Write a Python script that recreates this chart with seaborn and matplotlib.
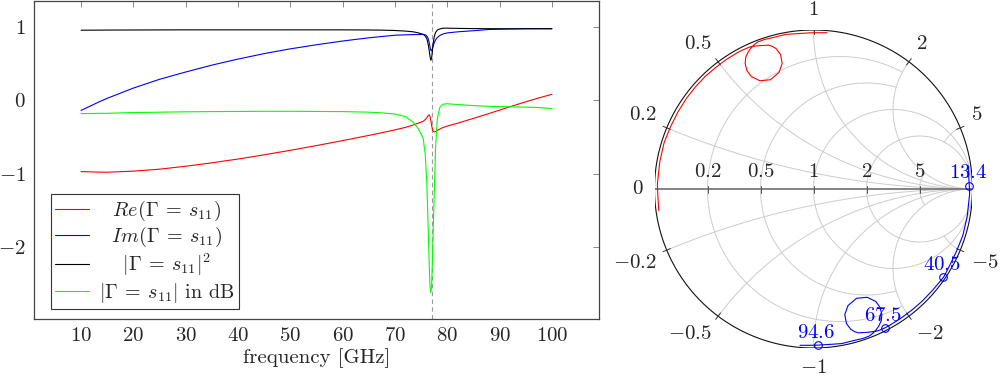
import numpy as np
import pandas as pd
import matplotlib
matplotlib.use("Agg")
import matplotlib.pyplot as plt
import seaborn as sns

# ---------------- data ----------------
freq = [10.0, 13.4, 15.0, 20.0, 25.0, 30.0, 35.0, 40.0, 40.5, 45.0, 50.0, 55.0, 60.0,
        65.0, 67.5, 70.0, 72.0, 73.5, 74.5, 75.4, 75.8, 76.1, 76.35, 76.55, 76.7,
        76.85, 77.0, 77.15, 77.3, 77.5, 77.75, 78.1, 78.6, 79.2, 80.0, 82.0, 85.0,
        88.0, 91.0, 94.0, 94.6, 97.0, 100.0]

re_s11 = [-0.973, -0.980, -0.982, -0.967, -0.940, -0.900, -0.853, -0.801, -0.796, -0.743,
          -0.682, -0.617, -0.549, -0.478, -0.441, -0.402, -0.368, -0.335, -0.309, -0.285,
          -0.260, -0.234, -0.207, -0.197, -0.217, -0.271, -0.338, -0.392, -0.419, -0.430,
          -0.426, -0.410, -0.390, -0.369, -0.350, -0.310, -0.245, -0.178, -0.108, -0.040,
          -0.027, 0.025, 0.085]

im_s11 = [-0.136, -0.020, 0.030, 0.170, 0.290, 0.390, 0.484, 0.567, 0.574, 0.642,
          0.707, 0.763, 0.814, 0.858, 0.876, 0.893, 0.899, 0.902, 0.903, 0.905,
          0.898, 0.882, 0.846, 0.789, 0.733, 0.687, 0.681, 0.708, 0.745, 0.790,
          0.829, 0.863, 0.891, 0.911, 0.925, 0.940, 0.955, 0.972, 0.977, 0.981,
          0.982, 0.983, 0.983]

mag2_s11 = [0.962, 0.963, 0.964, 0.965, 0.966, 0.967, 0.967, 0.967, 0.967, 0.967,
            0.967, 0.967, 0.967, 0.965, 0.963, 0.958, 0.950, 0.940, 0.925, 0.905,
            0.880, 0.845, 0.770, 0.680, 0.600, 0.550, 0.580, 0.680, 0.780, 0.870,
            0.930, 0.965, 0.980, 0.990, 0.990, 0.987, 0.984, 0.983, 0.982, 0.982,
            0.982, 0.982, 0.982]

db_s11 = [-0.180, -0.176, -0.175, -0.165, -0.160, -0.155, -0.152, -0.150, -0.150, -0.148,
          -0.148, -0.150, -0.152, -0.160, -0.170, -0.185, -0.220, -0.300, -0.390, -0.520,
          -0.750, -1.150, -1.750, -2.250, -2.550, -2.630, -2.550, -2.200, -1.800, -1.300,
          -0.650, -0.250, -0.090, -0.050, -0.045, -0.055, -0.070, -0.080, -0.085, -0.090,
          -0.090, -0.095, -0.110]

# admittance-side trace (blue) in the Smith chart
adm_re = [0.973, 0.980, 0.982, 0.967, 0.940, 0.900, 0.856, 0.822, 0.817, 0.748,
          0.685, 0.618, 0.549, 0.481, 0.448, 0.402, 0.366, 0.332, 0.307, 0.285,
          0.260, 0.234, 0.207, 0.197, 0.217, 0.271, 0.338, 0.392, 0.419, 0.430,
          0.426, 0.410, 0.390, 0.369, 0.350, 0.310, 0.245, 0.178, 0.108, 0.040,
          0.027, -0.025, -0.085]
adm_im = [0.136, 0.020, -0.030, -0.170, -0.290, -0.390, -0.482, -0.548, -0.556, -0.638,
          -0.704, -0.762, -0.813, -0.856, -0.874, -0.893, -0.898, -0.902, -0.903, -0.905,
          -0.898, -0.882, -0.846, -0.789, -0.733, -0.687, -0.681, -0.708, -0.745, -0.790,
          -0.829, -0.863, -0.891, -0.911, -0.925, -0.940, -0.955, -0.972, -0.977, -0.981,
          -0.982, -0.983, -0.983]

marker_freqs = [13.4, 40.5, 67.5, 94.6]
resonance_freq = 77.0

x_ticks = [10, 20, 30, 40, 50, 60, 70, 80, 90, 100]
y_ticks = [-2, -1, 0, 1]
smith_r_ticks = [0.2, 0.5, 1, 2, 5]
smith_x_ticks = [0.2, 0.5, 1, 2, 5]

label_math = [r"Re(\Gamma\:=\:s_{11})", r"Im(\Gamma\:=\:s_{11})",
              r"|\Gamma\:=\:s_{11}|^2", r"|\Gamma\:=\:s_{11}|"]
label_suffix = ["", "", "", " in dB"]

# ---------------- style ----------------
sns.set_theme(style="white")
plt.rcParams["font.family"] = ["cmr10", "DejaVu Serif"]
plt.rcParams["mathtext.fontset"] = "cm"
plt.rcParams["axes.unicode_minus"] = False
FS = 15
LFS = 14.5

fig = plt.figure(figsize=(10, 3.77), dpi=100)

# ---------------- left panel ----------------
ax = fig.add_axes([0.034, 0.154, 0.565, 0.843])
df = pd.DataFrame({"freq": freq, "re": re_s11, "im": im_s11,
                   "mag2": mag2_s11, "db": db_s11})
labels = [f"${m}${s}" for m, s in zip(label_math, label_suffix)]
for col, colr, lab in zip(["re", "im", "mag2", "db"],
                          ["#ff0000", "#0000ff", "#000000", "#00ff00"], labels):
    sns.lineplot(data=df, x="freq", y=col, color=colr, lw=0.8, label=lab, ax=ax)

ax.axvline(resonance_freq, color="#9a9a9a", lw=0.8, ls=(0, (4, 3)), zorder=0)

ax.set_xlim(1, 109)
ax.set_ylim(-2.99, 1.36)
ax.set_xticks(x_ticks)
ax.set_xticklabels([f"${t}$" for t in x_ticks])
ax.set_yticks(y_ticks)
ax.set_yticklabels([f"${t}$" for t in y_ticks])
ax.tick_params(direction="in", length=4, width=0.6, color="#777777",
               top=True, right=True, labelsize=FS)
ax.tick_params(axis="y", pad=6)
ax.tick_params(axis="x", pad=6)
ax.set_xlabel("frequency [GHz]", fontsize=FS, labelpad=2)
ax.set_ylabel("")
for s in ax.spines.values():
    s.set_color("#444444")
    s.set_linewidth(0.9)

leg = ax.legend(loc="lower left", bbox_to_anchor=(0.03, 0.031), borderaxespad=0,
                frameon=True, fancybox=False, edgecolor="#333333", framealpha=1,
                handlelength=1.65, handletextpad=0.5, labelspacing=0.12,
                borderpad=0.22, fontsize=LFS)
leg.get_frame().set_linewidth(0.8)

# centre the legend texts (pgfplots style) by padding shorter entries
fig.canvas.draw()
rend = fig.canvas.get_renderer()
widths = [t.get_window_extent(rend).width for t in leg.get_texts()]
wmax = max(widths)
m_px = 0.878 * LFS * fig.dpi / 72.0
for t, w, m, s in zip(leg.get_texts(), widths, label_math, label_suffix):
    if wmax - w > 1 and s == "":
        p = (wmax - w) / 2.0 / m_px
        t.set_text(rf"$\hspace{{{p:.3f}}}{m}\hspace{{{p:.3f}}}$")

# ---------------- Smith chart ----------------
sax = fig.add_axes([0.6545, 0.0769, 0.318, 0.8435])


def gamma(z):
    return (z - 1) / (z + 1)


GRID = dict(color="#cccccc", lw=0.7, zorder=1)
full = np.tan(np.linspace(-np.pi / 2 + 1e-4, np.pi / 2 - 1e-4, 800))
half = np.tan(np.linspace(0, np.pi / 2 - 1e-4, 600))

# resistance circles (limit of reactance they run to)
r_limits = {0.2: 2, 0.5: 2, 1: None, 2: None, 5: 2}
for r in smith_r_ticks:
    lim = r_limits[r]
    xs = full if lim is None else np.linspace(-lim, lim, 600)
    g = gamma(r + 1j * xs)
    sax.plot(g.real, g.imag, **GRID)

# reactance arcs (limit of resistance they run to)
x_limits = {0.2: None, 0.5: None, 1: None, 2: None, 5: 2}
for xv in smith_x_ticks:
    lim = x_limits[xv]
    rs = half if lim is None else np.linspace(0, lim, 400)
    for sgn in (1, -1):
        g = gamma(rs + 1j * sgn * xv)
        sax.plot(g.real, g.imag, **GRID)

# outer rim and real axis
th = np.linspace(0, 2 * np.pi, 720)
sax.plot(np.cos(th), np.sin(th), color="#111111", lw=0.8, zorder=3)
sax.plot([-1, 1], [0, 0], color="#707070", lw=1.2, zorder=2)

# real axis ticks/labels
for r in smith_r_ticks:
    g = gamma(r)
    sax.plot([g, g], [-0.022, 0.022], color="#555555", lw=0.7, zorder=2)
    sax.text(g, 0.075, f"${r:g}$", ha="center", va="baseline", fontsize=FS)
sax.text(-1.07, 0, "$0$", ha="right", va="center", fontsize=FS)

# rim ticks/labels
for xv in smith_x_ticks:
    for sgn in (1, -1):
        g = gamma(1j * sgn * xv)
        sax.plot([0.975 * g.real, 1.025 * g.real], [0.975 * g.imag, 1.025 * g.imag],
                 color="#333333", lw=0.7, zorder=3)
        c, s = g.real, g.imag
        ha = "left" if c > 0.3 else ("right" if c < -0.3 else "center")
        va = "bottom" if s > 0.3 else ("top" if s < -0.3 else "center")
        txt = f"${sgn * xv:g}$"
        sax.text(1.07 * c, 1.07 * s, txt, ha=ha, va=va, fontsize=FS)

# traces
sns.lineplot(x=re_s11, y=im_s11, sort=False, estimator=None, color="#ff0000",
             lw=0.8, ax=sax, legend=False, zorder=4)
sns.lineplot(x=adm_re, y=adm_im, sort=False, estimator=None, color="#0000ff",
             lw=0.8, ax=sax, legend=False, zorder=4)

for mf in marker_freqs:
    i = freq.index(mf)
    sax.plot(adm_re[i], adm_im[i], marker="o", ms=5.5, mfc="none", mec="#0000ff",
             mew=0.8, zorder=5, clip_on=False)
    sax.annotate(f"${mf:g}$", (adm_re[i], adm_im[i]), xytext=(-1, 2.5),
                 textcoords="offset points", ha="center", va="bottom",
                 color="#0000ff", fontsize=FS, zorder=6)

sax.set_xlim(-1, 1)
sax.set_ylim(-1, 1)
sax.axis("off")

fig.savefig("out.png", dpi=100)
